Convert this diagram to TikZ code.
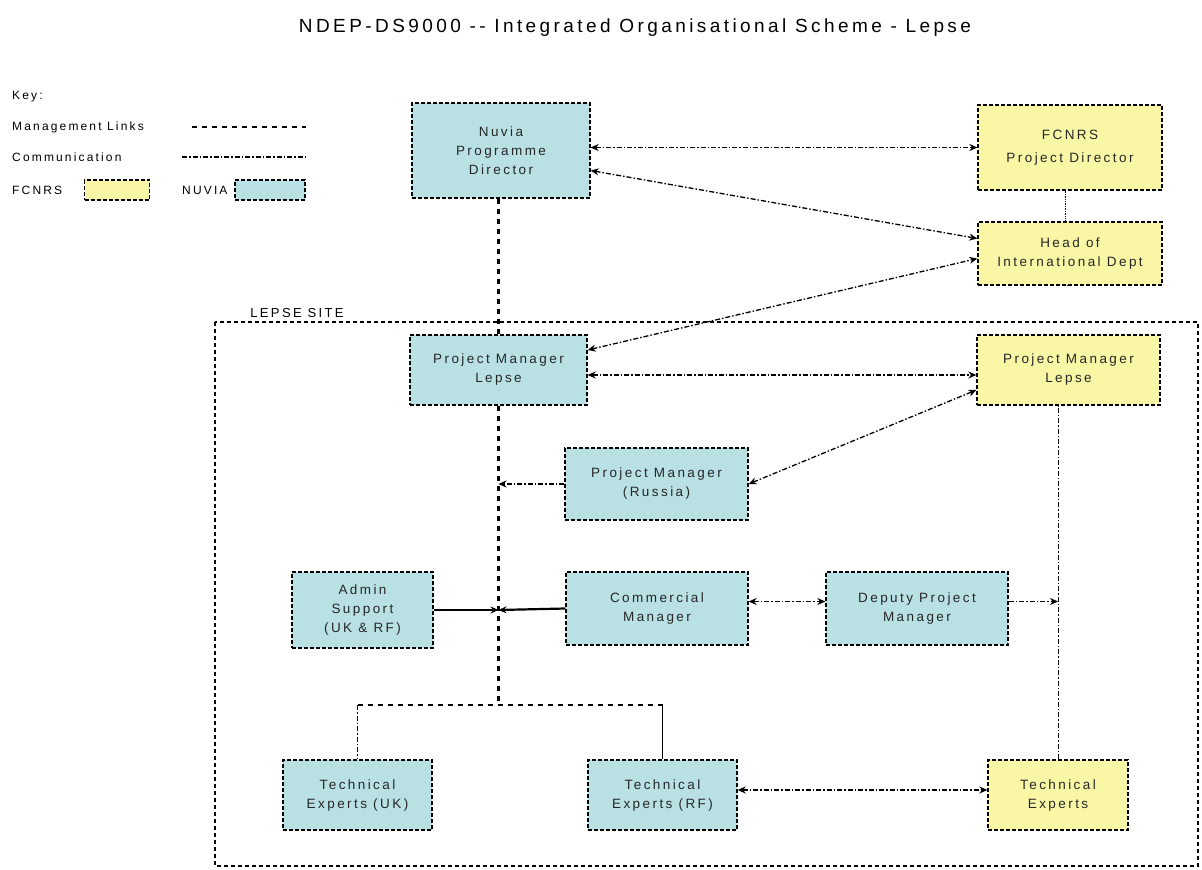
\documentclass[tikz,border=0pt]{standalone}
\usepackage{fontspec}
\setmainfont{Liberation Sans}
\newfontfamily\boxfont[LetterSpace=18]{Liberation Sans}
\usetikzlibrary{positioning,arrows.meta}
\definecolor{nuviablue}{HTML}{B9E1E4}
\definecolor{fcnrsyellow}{HTML}{F9F7A6}
\tikzset{
orgbox/.style={
  rectangle, draw=black, line width=1.3pt,
  dash pattern=on 4pt off 2pt,
  align=center, inner sep=2pt,
  font=\boxfont\fontsize{13.5}{19}\selectfont, text=black!85
},
nuvia/.style={orgbox, fill=nuviablue},
fcnrs/.style={orgbox, fill=fcnrsyellow},
keytext/.style={anchor=west, inner sep=0pt, font=\boxfont\fontsize{12}{14}\selectfont},
mgmt/.style={line width=2.2pt, dash pattern=on 5pt off 5pt},
comm/.style={line width=1.3pt, dash pattern=on 5pt off 2pt on 1.5pt off 2pt},
tip/.style={>={Stealth[length=8pt,width=7pt]}},
both/.style={tip, <->},
}
\begin{document}
\begin{tikzpicture}[x=1pt,y=-1pt]
\useasboundingbox (0,0) rectangle (1202,870);
% the title
\node[font=\boxfont\fontsize{19}{21}\selectfont] (title) at (635,28)
  {NDEP-DS9000 -- Integrated Organisational Scheme - Lepse};
% the key
\node[keytext] (key) at (12,97) {Key:};
\node[keytext] (keymgmt) at (12,127) {Management Links};
\node[keytext] (keycomm) at (12,157) {Communication};
\node[keytext] (keyfcnrs) at (12,190) {FCNRS};
\node[fcnrs, minimum width=65pt, minimum height=20pt] (keyyellow) at (117,190) {};
\node[keytext] (keynuvia) at (182,190) {NUVIA};
\node[nuvia, minimum width=70pt, minimum height=20pt] (keyblue) at (270,190) {};
\draw[mgmt] ([xshift=10pt]keymgmt.east -| keynuvia.west) -- (keymgmt.east -| keyblue.east);
\draw[comm] (keycomm.east -| keynuvia.west) -- (keycomm.east -| keyblue.east);
% the site boundary
\draw[line width=1.1pt, dash pattern=on 4pt off 3pt] (215,322) rectangle (1198,866);
\node[fill=white, inner sep=1pt, font=\boxfont\fontsize{13}{15}\selectfont] (site) at (297,313) {LEPSE SITE};
% the boxes
\node[nuvia, minimum width=178pt, minimum height=95pt] (npd) at (501,150.5)
  {Nuvia\\Programme\\Director};
\node[fcnrs, minimum width=184pt, minimum height=85pt] (fpd) at (1070,147.5)
  {FCNRS\\[4pt]Project Director};
\node[fcnrs, minimum width=184pt, minimum height=63pt] (hid) at (1070,253.5)
  {Head of\\International Dept};
\node[nuvia, minimum width=177pt, minimum height=70pt] (pml) at (498.5,370)
  {Project Manager\\Lepse};
\node[fcnrs, minimum width=183pt, minimum height=70pt] (pmly) at (1068.5,370)
  {Project Manager\\Lepse};
\node[nuvia, minimum width=183pt, minimum height=72pt] (pmr) at (656.5,484)
  {Project Manager\\(Russia)};
\node[nuvia, minimum width=141pt, minimum height=76pt] (adm) at (362.5,610)
  {Admin\\Support\\(UK \& RF)};
\node[nuvia, minimum width=182pt, minimum height=73pt] (com) at (657,608.5)
  {Commercial\\Manager};
\node[nuvia, minimum width=182pt, minimum height=73pt] (dep) at (917,608.5)
  {Deputy Project\\Manager};
\node[nuvia, minimum width=149pt, minimum height=70pt] (teuk) at (357.5,795)
  {Technical\\Experts (UK)};
\node[nuvia, minimum width=149pt, minimum height=70pt] (terf) at (662.5,795)
  {Technical\\Experts (RF)};
\node[fcnrs, minimum width=140pt, minimum height=70pt] (tey) at (1058,795)
  {Technical\\Experts};
% the junctions
\coordinate (jpmr) at (pml.south |- pmr.west);
\coordinate (jadm) at (pml.south |- adm.east);
\coordinate (jexp) at (pml.south |- 0,705);
\coordinate (juk) at (teuk.north |- jexp);
\coordinate (jrf) at (terf.north |- jexp);
\coordinate (jdep) at (tey.north |- dep.east);
% the management lines
\draw[mgmt] (npd.south -| pml.north) -- (pml.north);
\draw[mgmt] (pml.south) -- (jexp);
\draw[mgmt] (juk) -- (jrf);
\draw[comm, line width=0.8pt] (juk) -- (teuk.north);
\draw[line width=0.8pt] (jrf) -- (terf.north);
\draw[line width=2.2pt, tip, ->] (adm.east) -- (jadm);
\draw[line width=2.2pt, tip, ->] (com.west) -- (jadm);
% the communication lines
\draw[comm, both] (npd.east |- fpd.west) -- (fpd.west);
\draw[comm, both] ([yshift=-20pt]npd.east) -- ([yshift=15pt]hid.west);
\draw[comm, both] ([yshift=20pt]pml.east) -- ([yshift=-5pt]hid.west);
\draw[comm, both] ([yshift=-5pt]pml.east) -- ([yshift=-5pt]pmly.west);
\draw[comm, both] (pmr.east) -- ([yshift=-20pt]pmly.west);
\draw[comm, tip, ->] (pmr.west) -- (jpmr);
\draw[comm, both] ([yshift=7pt]com.east) -- ([yshift=7pt]dep.west);
\draw[comm, tip, ->] ([yshift=7pt]dep.east) -- ([yshift=7pt]jdep);
\draw[comm, line width=0.7pt] (tey.north) -- (tey.north |- pmly.south);
\draw[densely dotted, line width=0.7pt] ([xshift=-5pt]fpd.south) -- ([xshift=-5pt]hid.north);
\draw[densely dotted, line width=0.7pt] ([xshift=-5pt]hid.south) -- (hid.south -| pmly.north);
\draw[comm, both] ([yshift=5pt]terf.east) -- ([yshift=5pt]tey.west);
\end{tikzpicture}
\end{document}
